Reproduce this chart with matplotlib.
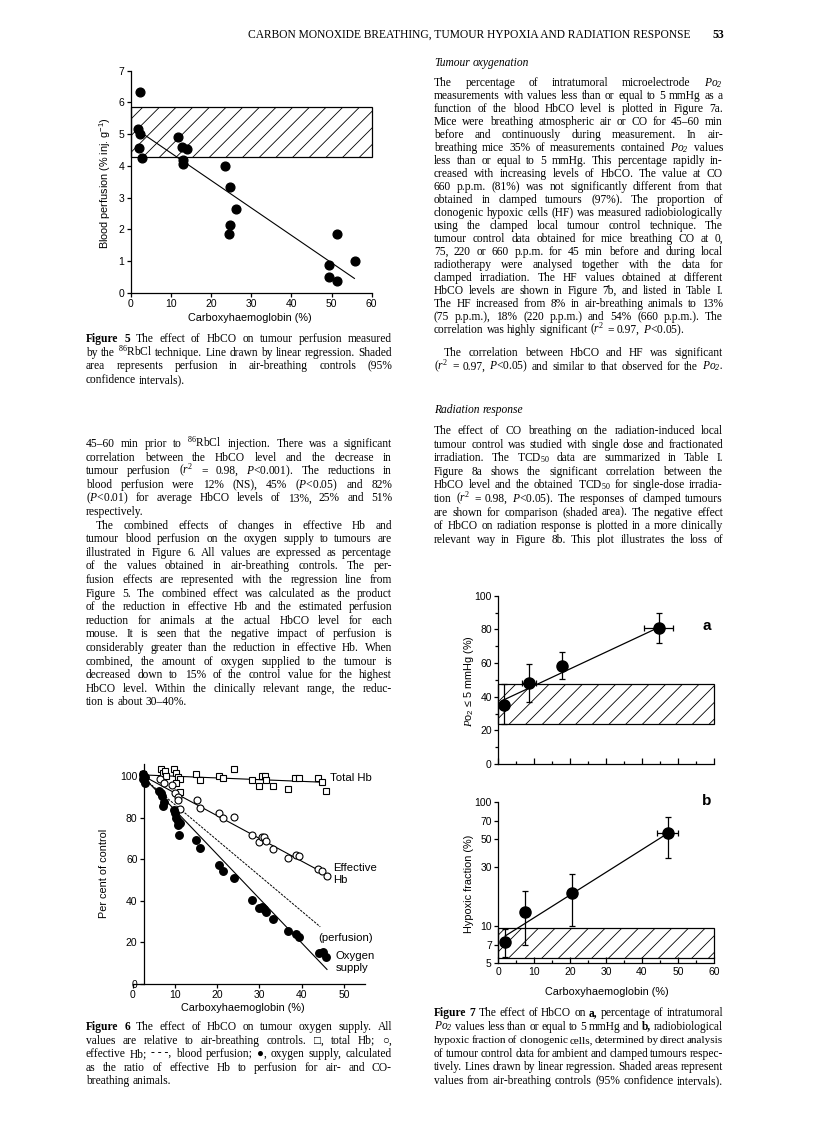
import matplotlib
matplotlib.use('Agg')
import matplotlib.pyplot as plt
import numpy as np
from matplotlib.patches import Rectangle
from matplotlib.ticker import FixedLocator, NullLocator, NullFormatter

W, H = 816, 1147
plt.rcParams['font.family'] = ['Liberation Sans', 'DejaVu Sans']
plt.rcParams['mathtext.fontset'] = 'custom'
plt.rcParams['mathtext.rm'] = 'Liberation Serif'
plt.rcParams['mathtext.it'] = 'Liberation Serif:italic'
plt.rcParams['mathtext.bf'] = 'Liberation Serif:bold'
plt.rcParams['mathtext.default'] = 'regular'
plt.rcParams['hatch.linewidth'] = 0.6

SERIF = ['Liberation Serif', 'DejaVu Serif']
SANS = ['Liberation Sans', 'DejaVu Sans']

# ---------------- data ----------------
# Figure 5
f5_hbco = [2.2, 1.9, 2.3, 2.1, 2.7, 11.9, 12.8, 13.9, 13.1, 13.0,
           23.6, 24.7, 26.1, 24.7, 24.5, 49.4, 49.4, 51.3, 51.4, 55.8]
f5_perf = [6.32, 5.15, 5.0, 4.55, 4.26, 4.92, 4.58, 4.53, 4.2, 4.05,
           3.98, 3.32, 2.65, 2.15, 1.85, 0.87, 0.49, 0.36, 1.86, 0.99]
f5_fit_x = [2.0, 55.7]
f5_fit_y = [5.1, 0.45]
f5_ctrl = [4.28, 5.87]

# Figure 6
f6_tot_x = [2.5, 6.6, 7.1, 7.6, 7.9, 9.8, 10.2, 10.6, 11.2, 10.2, 11.2, 15.0, 15.9, 20.3,
            21.3, 24.0, 28.3, 29.8, 30.6, 31.3, 31.6, 33.2, 36.7, 38.5, 39.4, 43.8, 44.9, 45.8]
f6_tot_y = [101, 103.4, 101.6, 102.2, 100.2, 103.4, 101.3, 99.7, 98.4, 96.5, 92.5, 101, 98, 100.2,
            98.9, 103.4, 98, 95.4, 100.2, 100.2, 98, 95.2, 93.8, 98.9, 98.9, 98.9, 97.3, 93]
f6_eff_x = [2.5, 6.5, 7.4, 9.4, 10.0, 10.6, 10.8, 11.2, 15.1, 15.9, 20.3, 21.3, 24.0, 28.3,
            29.8, 30.6, 31.1, 31.5, 33.2, 36.7, 38.7, 39.4, 43.8, 44.9, 46.0]
f6_eff_y = [100, 98.5, 96.5, 95.7, 91.7, 89.7, 88.5, 84, 88.5, 84.5, 82, 79.8, 80.4, 71.8,
            68.4, 70.8, 70.5, 68.6, 64.9, 60.8, 62.2, 61.4, 55.4, 54.4, 52]
f6_oxy_x = [2.5, 2.9, 2.5, 2.9, 6.3, 6.6, 6.9, 7.4, 7.1, 9.8, 10.1, 10.2, 10.6, 10.8, 11.2, 11.0,
            15.0, 15.9, 20.3, 21.3, 24.0, 28.3, 29.8, 30.6, 31.1, 31.6, 33.2, 36.7, 38.7, 39.4,
            44.0, 45.0, 45.8]
f6_oxy_y = [101, 99.7, 98.4, 96.5, 93, 91.7, 90.4, 87.5, 85.6, 83.7, 82, 79.6, 78.5, 76.4, 77.2, 71.8,
            69.2, 65.2, 57.2, 54.5, 50.8, 40.4, 36.7, 37.2, 35.9, 34.8, 31.1, 25.6, 24, 22.8,
            15, 15.2, 13]
f6_tot_fit_x, f6_tot_fit_y = [2.5, 45.0], [100.5, 97.0]
f6_eff_fit_x, f6_eff_fit_y = [2.5, 46.0], [100.0, 52.5]
f6_perf_fit_x, f6_perf_fit_y = [2.5, 44.4], [99.0, 27.5]
f6_oxy_fit_x, f6_oxy_fit_y = [2.5, 46.0], [99.5, 7.0]

# Figure 7a
f7a_x = [1.7, 8.6, 17.9, 44.6]
f7a_y = [35.0, 47.9, 58.4, 80.6]
f7a_lo = [24.0, 37.0, 50.5, 72.1]
f7a_hi = [47.5, 59.2, 66.3, 89.9]
f7a_xerr = [0, 2.0, 0, 4.0]
f7a_fit_x, f7a_fit_y = [1.5, 44.0], [38.0, 80.5]
f7a_ctrl = [23.8, 47.5]

# Figure 7b
f7b_x = [2.0, 7.4, 20.6, 47.1]
f7b_y = [7.46, 13.0, 18.3, 55.6]
f7b_lo = [5.6, 7.0, 10.0, 35.0]
f7b_hi = [9.4, 19.2, 26.2, 75.5]
f7b_xerr = [0, 0, 0, 3.0]
f7b_fit_x, f7b_fit_y = [2.0, 46.0], [8.3, 53.0]
f7b_ctrl = [5.5, 9.6]
f7b_ticks = [5, 7, 10, 30, 50, 70, 100]

# ---------------- figure ----------------
fig = plt.figure(figsize=(W / 100, H / 100), dpi=100)
renderer = fig.canvas.get_renderer()


def fx(x):
    return x / W


def fy(y):
    return 1 - y / H


def ax_at(l, t, r, b):
    return fig.add_axes([l / W, 1 - b / H, (r - l) / W, (b - t) / H])


def style(ax, fs=7.5):
    for s in ['top', 'right']:
        ax.spines[s].set_visible(False)
    for s in ['left', 'bottom']:
        ax.spines[s].set_linewidth(0.9)
    ax.tick_params(labelsize=fs, width=0.9, length=3, direction='out', pad=1.5)


BODY = 8.3
MINGAP = 2.0


def draw_line(x0, x1, y, line, size=BODY, justify=True, indent=0):
    words = line.split(' ')
    objs = []
    for w in words:
        kw = dict(fontsize=size, family=SERIF, va='baseline', ha='left')
        if w.startswith('§'):
            w = w[1:]
            kw['fontweight'] = 'bold'
        elif w.startswith('¤'):
            w = w[1:]
            kw['fontstyle'] = 'italic'
        objs.append(fig.text(0, 0, w, **kw))
    n = len(objs)
    avail = x1 - x0 - indent
    widths = [t.get_window_extent(renderer).width for t in objs]
    need = sum(widths) + (n - 1) * MINGAP
    if need > avail:
        f = (avail - (n - 1) * MINGAP) / sum(widths)
        for t in objs:
            t.set_fontsize(size * f)
        widths = [t.get_window_extent(renderer).width for t in objs]
    space = size * 100 / 72 * 0.25
    if justify and n > 1:
        gap = (avail - sum(widths)) / (n - 1)
        gap = max(gap, 1.0)
    else:
        gap = space
    x = x0 + indent
    for t, w in zip(objs, widths):
        t.set_position((fx(x), fy(y)))
        x += w + gap


def draw_block(x0, x1, y0, step, lines, size=BODY):
    y = y0
    for ln in lines:
        if ln is None:
            y += step
            continue
        last = ln.startswith('^')
        ind = 10 if ln.startswith('>') else 0
        ln = ln.lstrip('^>')
        draw_line(x0, x1, y, ln, size=size, justify=not last, indent=ind)
        y += step


# ---------------- header ----------------
fig.text(fx(690), fy(38), 'CARBON MONOXIDE BREATHING, TUMOUR HYPOXIA AND RADIATION RESPONSE',
         family=SERIF, fontsize=8.3, ha='right', va='baseline')
fig.text(fx(724), fy(38), '53', family=SERIF, fontsize=8.5, fontweight='bold', ha='right', va='baseline')

# ---------------- Figure 5 ----------------
ax5 = ax_at(130.7, 70.7, 371.7, 292.7)
style(ax5)
ax5.set_xlim(0, 60)
ax5.set_ylim(0, 7)
ax5.add_patch(Rectangle((0, f5_ctrl[0]), 60, f5_ctrl[1] - f5_ctrl[0], fill=False,
                        hatch='//', lw=0.9, ec='black', clip_on=False))
ax5.plot(f5_fit_x, f5_fit_y, color='black', lw=0.8)
ax5.plot(f5_hbco, f5_perf, 'o', color='black', ms=6.3, clip_on=False)
ax5.set_xticks(range(0, 61, 10))
ax5.set_yticks(range(0, 8))
fig.text(fx(105), fy(183), 'Blood perfusion (% inj. g$^{-1}$)', rotation=90,
         fontsize=7.8, ha='center', va='center')
fig.text(fx(250), fy(318), 'Carboxyhaemoglobin (%)', fontsize=7.8, ha='center', va='center')

LX0, LX1 = 86, 392
RX0, RX1 = 434, 723
STEP = 13.6

draw_block(LX0, LX1, 342, STEP, [
    '§Figure §5 The effect of HbCO on tumour perfusion measured',
    'by the $^{86}$RbCl technique. Line drawn by linear regression. Shaded',
    'area represents perfusion in air-breathing controls (95%',
    '^confidence intervals).',
])

draw_block(LX0, LX1, 447, STEP, [
    '45–60 min prior to $^{86}$RbCl injection. There was a significant',
    'correlation between the HbCO level and the decrease in',
    r'tumour perfusion ($\mathit{r}^2$ = 0.98, $\mathit{P}$<0.001). The reductions in',
    r'blood perfusion were 12% (NS), 45% ($\mathit{P}$<0.05) and 82%',
    r'($\mathit{P}$<0.01) for average HbCO levels of 13%, 25% and 51%',
    '^respectively.',
    '>The combined effects of changes in effective Hb and',
    'tumour blood perfusion on the oxygen supply to tumours are',
    'illustrated in Figure 6. All values are expressed as percentage',
    'of the values obtained in air-breathing controls. The per-',
    'fusion effects are represented with the regression line from',
    'Figure 5. The combined effect was calculated as the product',
    'of the reduction in effective Hb and the estimated perfusion',
    'reduction for animals at the actual HbCO level for each',
    'mouse. It is seen that the negative impact of perfusion is',
    'considerably greater than the reduction in effective Hb. When',
    'combined, the amount of oxygen supplied to the tumour is',
    'decreased down to 15% of the control value for the highest',
    'HbCO level. Within the clinically relevant range, the reduc-',
    '^tion is about 30–40%.',
])

# ---------------- Figure 6 ----------------
ax6 = ax_at(132.8, 763.5, 365, 984)
style(ax6)
ax6.set_xlim(0, 55)
ax6.set_ylim(0, 106)
ax6.spines['left'].set_position(('data', 2.6))
ax6.plot(f6_tot_fit_x, f6_tot_fit_y, color='black', lw=0.8, zorder=2)
ax6.plot(f6_eff_fit_x, f6_eff_fit_y, color='black', lw=0.8, zorder=2)
ax6.plot(f6_perf_fit_x, f6_perf_fit_y, color='black', lw=0.7, ls=(0, (2.5, 1.2)), zorder=2)
ax6.plot(f6_oxy_fit_x, f6_oxy_fit_y, color='black', lw=0.8, zorder=2)
ax6.plot(f6_tot_x, f6_tot_y, 's', mfc='white', mec='black', mew=0.8, ms=4.6, zorder=3, clip_on=False)
ax6.plot(f6_eff_x, f6_eff_y, 'o', mfc='white', mec='black', mew=0.8, ms=5.0, zorder=3)
ax6.plot(f6_oxy_x, f6_oxy_y, 'o', color='black', ms=5.4, zorder=4, clip_on=False)
ax6.set_xticks(range(0, 51, 10))
ax6.set_yticks(range(0, 101, 20))
fig.text(fx(104), fy(873), 'Per cent of control', rotation=90, fontsize=7.8, ha='center', va='center')
fig.text(fx(243), fy(1008), 'Carboxyhaemoglobin (%)', fontsize=7.8, ha='center', va='center')
fig.text(fx(330), fy(778), 'Total Hb', fontsize=8.2, ha='left', va='center')
fig.text(fx(333), fy(868), 'Effective', fontsize=8.2, ha='left', va='center')
fig.text(fx(333), fy(880), 'Hb', fontsize=8.2, ha='left', va='center')
fig.text(fx(318), fy(938), '(perfusion)', fontsize=8.2, ha='left', va='center')
fig.text(fx(336), fy(956), 'Oxygen', fontsize=8.2, ha='left', va='center')
fig.text(fx(336), fy(968), 'supply', fontsize=8.2, ha='left', va='center')

draw_block(LX0, LX1, 1030, STEP, [
    '§Figure §6 The effect of HbCO on tumour oxygen supply. All',
    'values are relative to air-breathing controls. □, total Hb; ○,',
    'effective Hb; -\u00a0-\u00a0-, blood perfusion; ●, oxygen supply, calculated',
    'as the ratio of effective Hb to perfusion for air- and CO-',
    '^breathing animals.',
])

# ---------------- right column text ----------------
draw_line(RX0, RX1, 66, '¤Tumour ¤oxygenation', justify=False)
draw_block(RX0, RX1, 86, 13.0, [
    'The percentage of intratumoral microelectrode ¤Po$_2$',
    'measurements with values less than or equal to 5 mmHg as a',
    'function of the blood HbCO level is plotted in Figure 7a.',
    'Mice were breathing atmospheric air or CO for 45–60 min',
    'before and continuously during measurement. In air-',
    'breathing mice 35% of measurements contained ¤Po$_2$ values',
    'less than or equal to 5 mmHg. This percentage rapidly in-',
    'creased with increasing levels of HbCO. The value at CO',
    '660 p.p.m. (81%) was not significantly different from that',
    'obtained in clamped tumours (97%). The proportion of',
    'clonogenic hypoxic cells (HF) was measured radiobiologically',
    'using the clamped local tumour control technique. The',
    'tumour control data obtained for mice breathing CO at 0,',
    '75, 220 or 660 p.p.m. for 45 min before and during local',
    'radiotherapy were analysed together with the data for',
    'clamped irradiation. The HF values obtained at different',
    'HbCO levels are shown in Figure 7b, and listed in Table I.',
    'The HF increased from 8% in air-breathing animals to 13%',
    '(75 p.p.m.), 18% (220 p.p.m.) and 54% (660 p.p.m.). The',
    r'^correlation was highly significant ($\mathit{r}^2$ = 0.97, $\mathit{P}$<0.05).',
])
draw_block(RX0, RX1, 356, STEP, [
    '>The correlation between HbCO and HF was significant',
    r'($\mathit{r}^2$ = 0.97, $\mathit{P}$<0.05) and similar to that observed for the ¤Po$_2$.',
])
draw_line(RX0, RX1, 413, '¤Radiation ¤response', justify=False)
draw_block(RX0, RX1, 434, STEP, [
    'The effect of CO breathing on the radiation-induced local',
    'tumour control was studied with single dose and fractionated',
    'irradiation. The TCD$_{50}$ data are summarized in Table I.',
    'Figure 8a shows the significant correlation between the',
    'HbCO level and the obtained TCD$_{50}$ for single-dose irradia-',
    r'tion ($\mathit{r}^2$ = 0.98, $\mathit{P}$<0.05). The responses of clamped tumours',
    'are shown for comparison (shaded area). The negative effect',
    'of HbCO on radiation response is plotted in a more clinically',
    'relevant way in Figure 8b. This plot illustrates the loss of',
])

# ---------------- Figure 7a ----------------
ax7a = ax_at(498, 595.7, 714, 764)
style(ax7a)
ax7a.set_xlim(0, 60)
ax7a.set_ylim(0, 100)
ax7a.add_patch(Rectangle((0, f7a_ctrl[0]), 60, f7a_ctrl[1] - f7a_ctrl[0], fill=False,
                         hatch='//', lw=0.9, ec='black', clip_on=False))
ax7a.plot(f7a_fit_x, f7a_fit_y, color='black', lw=0.9)
ya = np.array(f7a_y)
ax7a.errorbar(f7a_x, ya, yerr=[ya - np.array(f7a_lo), np.array(f7a_hi) - ya], xerr=f7a_xerr,
              fmt='o', color='black', ms=8, elinewidth=0.9, capsize=2.5, capthick=0.9, clip_on=False)
ax7a.yaxis.set_major_locator(FixedLocator(range(0, 101, 20)))
ax7a.yaxis.set_minor_locator(FixedLocator(range(10, 100, 20)))
ax7a.xaxis.set_major_locator(FixedLocator(range(0, 61, 10)))
ax7a.xaxis.set_minor_locator(FixedLocator(range(5, 60, 10)))
ax7a.xaxis.set_major_formatter(NullFormatter())
ax7a.tick_params(axis='x', which='major', direction='in', length=4.5)
ax7a.tick_params(axis='x', which='minor', direction='in', length=2.5, width=0.9)
ax7a.tick_params(axis='y', which='minor', direction='out', length=2.5, width=0.9)
fig.text(fx(469), fy(681), r'$\mathit{P}$o$_2$ ≤ 5 mmHg (%)', rotation=90, fontsize=7.8,
         ha='center', va='center')
fig.text(fx(707), fy(626), 'a', fontsize=11, fontweight='bold', ha='center', va='center')

# ---------------- Figure 7b ----------------
ax7b = ax_at(498, 801.7, 714, 963.3)
style(ax7b)
ax7b.set_yscale('log')
ax7b.set_xlim(0, 60)
ax7b.set_ylim(5, 100)
ax7b.add_patch(Rectangle((0, f7b_ctrl[0]), 60, f7b_ctrl[1] - f7b_ctrl[0], fill=False,
                         hatch='//', lw=0.9, ec='black', clip_on=False))
ax7b.plot(f7b_fit_x, f7b_fit_y, color='black', lw=0.9)
yb = np.array(f7b_y)
ax7b.errorbar(f7b_x, yb, yerr=[yb - np.array(f7b_lo), np.array(f7b_hi) - yb], xerr=f7b_xerr,
              fmt='o', color='black', ms=8, elinewidth=0.9, capsize=2.5, capthick=0.9, clip_on=False)
ax7b.yaxis.set_major_locator(FixedLocator(f7b_ticks))
ax7b.set_yticklabels([str(v) for v in f7b_ticks])
ax7b.yaxis.set_minor_locator(NullLocator())
ax7b.xaxis.set_major_locator(FixedLocator(range(0, 61, 10)))
ax7b.xaxis.set_minor_locator(FixedLocator(range(5, 60, 10)))
ax7b.set_xticklabels([str(v) for v in range(0, 61, 10)])
ax7b.tick_params(axis='x', which='major', direction='in', length=4.5, pad=3)
ax7b.tick_params(axis='x', which='minor', direction='in', length=2.5, width=0.9)
fig.text(fx(469), fy(884), 'Hypoxic fraction (%)', rotation=90, fontsize=7.8, ha='center', va='center')
fig.text(fx(607), fy(992), 'Carboxyhaemoglobin (%)', fontsize=7.8, ha='center', va='center')
fig.text(fx(707), fy(801), 'b', fontsize=11, fontweight='bold', ha='center', va='center')

draw_block(RX0, RX1, 1016, STEP, [
    '§Figure §7 The effect of HbCO on §a, percentage of intratumoral',
    '¤Po$_2$ values less than or equal to 5 mmHg and §b, radiobiological',
    'hypoxic fraction of clonogenic cells, determined by direct analysis',
    'of tumour control data for ambient and clamped tumours respec-',
    'tively. Lines drawn by linear regression. Shaded areas represent',
    'values from air-breathing controls (95% confidence intervals).',
])

fig.savefig('out.png', dpi=100)
